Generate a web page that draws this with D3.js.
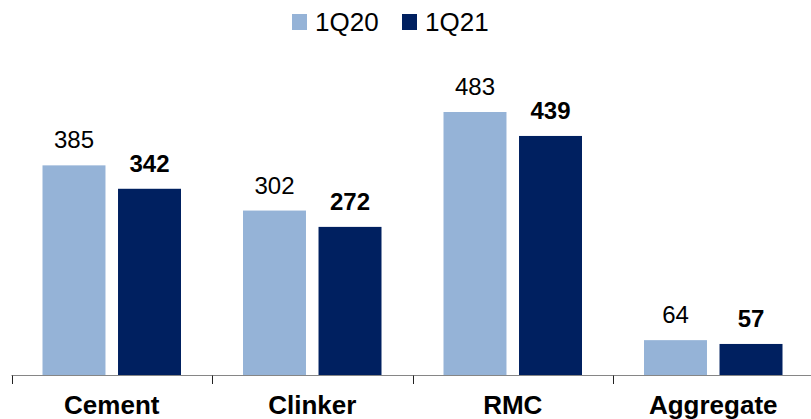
<!DOCTYPE html>
<html>
<head>
<meta charset="utf-8">
<script src="https://cdn.jsdelivr.net/npm/d3@7"></script>
<style>
  html, body { margin: 0; padding: 0; background: #ffffff; }
  svg { display: block; font-family: Arial, "Liberation Sans", sans-serif; }
</style>
</head>
<body>
<svg id="chart" width="811" height="419"></svg>
<script>
const categories = ["Cement", "Clinker", "RMC", "Aggregate"];
const seriesNames = ["1Q20", "1Q21"];
const values1Q20 = [385, 302, 483, 64];
const values1Q21 = [342, 272, 439, 57];
const seriesColors = ["#95B3D7", "#002060"];

const data = categories.map((c, i) => ({
  category: c,
  values: [
    { series: seriesNames[0], value: values1Q20[i], idx: 0 },
    { series: seriesNames[1], value: values1Q21[i], idx: 1 }
  ]
}));

const svg = d3.select("#chart");
const baseY = 375;

const x0 = d3.scaleBand().domain(categories).range([11.5, 813.5]).padding(0);
const x1 = d3.scaleBand().domain(seriesNames).range([31, 169.5]).paddingInner(0.166).paddingOuter(0);
const y = d3.scaleLinear().domain([0, 483]).range([baseY, 112]);

// bars
const groups = svg.selectAll("g.cat").data(data).join("g")
  .attr("class", "cat")
  .attr("transform", d => `translate(${x0(d.category)},0)`);

groups.selectAll("rect").data(d => d.values).join("rect")
  .attr("x", d => x1(d.series))
  .attr("y", d => y(d.value))
  .attr("width", x1.bandwidth())
  .attr("height", d => baseY - y(d.value))
  .attr("fill", d => seriesColors[d.idx]);

groups.selectAll("text.val").data(d => d.values).join("text")
  .attr("class", "val")
  .attr("x", d => x1(d.series) + x1.bandwidth() / 2)
  .attr("y", d => y(d.value) - 17)
  .attr("text-anchor", "middle")
  .attr("font-size", "24px")
  .attr("font-weight", d => d.idx === 1 ? "bold" : "normal")
  .attr("fill", "#000")
  .text(d => d.value);

// axis
const axisG = svg.append("g").attr("transform", `translate(0,${baseY})`);
axisG.append("line")
  .attr("x1", 11.5).attr("x2", 811)
  .attr("y1", 0.5).attr("y2", 0.5)
  .attr("stroke", "#868686").attr("stroke-width", 1.2);
axisG.selectAll("line.tick").data(categories).join("line")
  .attr("class", "tick")
  .attr("x1", d => Math.round(x0(d)) + 0.5)
  .attr("x2", d => Math.round(x0(d)) + 0.5)
  .attr("y1", 0.5).attr("y2", 9)
  .attr("stroke", "#222").attr("stroke-width", 1);
axisG.selectAll("text.cat").data(categories).join("text")
  .attr("class", "cat")
  .attr("x", d => x0(d) + x0.bandwidth() / 2)
  .attr("y", 39)
  .attr("text-anchor", "middle")
  .attr("font-size", "26px")
  .attr("font-weight", "bold")
  .attr("fill", "#000")
  .text(d => d);

// legend
const legendItems = [
  { name: seriesNames[0], color: seriesColors[0], x: 292 },
  { name: seriesNames[1], color: seriesColors[1], x: 402 }
];
const lg = svg.append("g");
lg.selectAll("rect").data(legendItems).join("rect")
  .attr("x", d => d.x).attr("y", 14)
  .attr("width", 15).attr("height", 16)
  .attr("fill", d => d.color);
lg.selectAll("text").data(legendItems).join("text")
  .attr("x", d => d.x + 23).attr("y", 31)
  .attr("font-size", "26px")
  .attr("fill", "#000")
  .text(d => d.name);
</script>
</body>
</html>
